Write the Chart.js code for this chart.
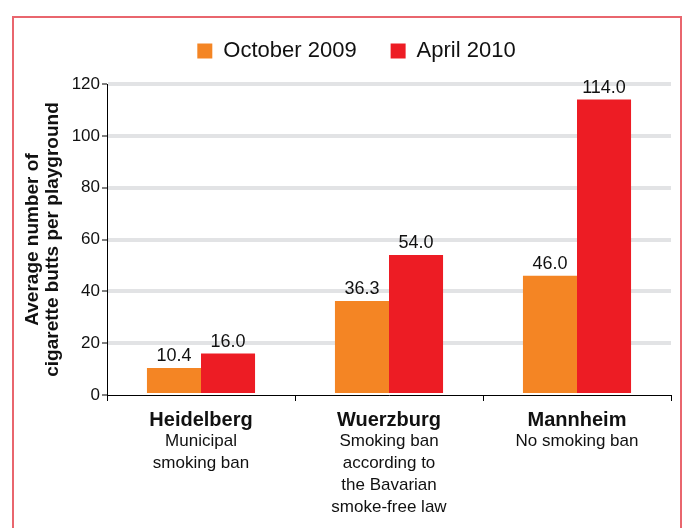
<!DOCTYPE html>
<html>
<head>
<meta charset="utf-8">
<script src="https://cdn.jsdelivr.net/npm/chart.js@4"></script>
<style>
    html, body { margin: 0; padding: 0; background: #fff; overflow: hidden; }
    #wrap { position: relative; width: 686px; height: 528px; }
    #frame {
        position: absolute; left: 12px; top: 16px; width: 670px; height: 540px;
        border: 2px solid #e9666e; box-sizing: border-box;
    }
    #chart { position: absolute; left: 0; top: 0; }
</style>
</head>
<body>
<div id="wrap">
    <div id="frame"></div>
    <canvas id="chart" width="686" height="528"></canvas>
</div>
<script>
// Chart data
const cities = ['Heidelberg', 'Wuerzburg', 'Mannheim'];
const cityNotes = [
    ['Municipal', 'smoking ban'],
    ['Smoking ban', 'according to', 'the Bavarian', 'smoke-free law'],
    ['No smoking ban']
];
const october2009 = [10.4, 36.3, 46.0];
const april2010 = [16.0, 54.0, 114.0];
const yMax = 120;
const yStep = 20;
const yTitle = ['Average number of', 'cigarette butts per playground'];

const FONT = "'Liberation Sans', Arial, sans-serif";

// Value labels above each bar
const valueLabels = {
    id: 'valueLabels',
    afterDatasetsDraw(chart) {
        const ctx = chart.ctx;
        ctx.save();
        ctx.font = '18px ' + FONT;
        ctx.fillStyle = '#111';
        ctx.textAlign = 'center';
        ctx.textBaseline = 'alphabetic';
        chart.data.datasets.forEach((ds, i) => {
            chart.getDatasetMeta(i).data.forEach((bar, j) => {
                ctx.fillText(ds.data[j].toFixed(1), bar.x, bar.y - 7);
            });
        });
        ctx.restore();
    }
};

// Category labels: bold city name, then the notes underneath
const cityLabels = {
    id: 'cityLabels',
    afterDraw(chart) {
        const ctx = chart.ctx;
        const xScale = chart.scales.x;
        const top = chart.chartArea.bottom;
        ctx.save();
        ctx.fillStyle = '#111';
        ctx.textAlign = 'center';
        ctx.textBaseline = 'middle';
        cities.forEach((city, i) => {
            const x = xScale.getPixelForValue(i);
            ctx.font = 'bold 20px ' + FONT;
            ctx.fillText(city, x, top + 25);
            ctx.font = '17px ' + FONT;
            cityNotes[i].forEach((line, k) => {
                ctx.fillText(line, x, top + 46.5 + k * 21.8);
            });
        });
        ctx.restore();
    }
};

// Legend: fixed height, nudged right to sit over the plot
const legendTweak = {
    id: 'legendTweak',
    beforeInit(chart) {
        const legend = chart.legend;
        const origFit = legend.fit;
        const origDraw = legend.draw;
        legend.fit = function () {
            origFit.call(legend);
            this.height = 78;
        };
        legend.draw = function () {
            const ctx = chart.ctx;
            ctx.save();
            ctx.translate(21, 0);
            origDraw.call(legend);
            ctx.restore();
        };
    }
};

new Chart(document.getElementById('chart'), {
    type: 'bar',
    data: {
        labels: cities,
        datasets: [{
            label: 'October 2009',
            data: october2009,
            backgroundColor: '#f48524',
            borderWidth: 0
        }, {
            label: 'April 2010',
            data: april2010,
            backgroundColor: '#ed1c24',
            borderWidth: 0
        }]
    },
    options: {
        responsive: false,
        animation: false,
        layout: {
            padding: { top: 6, right: 15, bottom: 127, left: 0 }
        },
        datasets: {
            bar: {
                categoryPercentage: 0.575,
                barPercentage: 1.0
            }
        },
        scales: {
            x: {
                grid: {
                    offset: true,
                    drawOnChartArea: false,
                    tickLength: 6,
                    tickColor: '#000'
                },
                border: { color: '#000', width: 1 },
                ticks: { display: false }
            },
            y: {
                min: 0,
                max: yMax,
                afterFit(scale) {
                    scale.width = 107;
                },
                ticks: {
                    stepSize: yStep,
                    padding: 2,
                    color: '#111',
                    font: { family: FONT, size: 17 }
                },
                grid: {
                    color: ctx => ctx.tick && ctx.tick.value === 0 ? 'rgba(0,0,0,0)' : '#e2e3e5',
                    lineWidth: 4,
                    tickColor: '#000',
                    tickWidth: 1,
                    tickLength: 5
                },
                border: { color: '#000', width: 1 },
                title: {
                    display: true,
                    text: yTitle,
                    color: '#111',
                    font: { family: FONT, size: 19, weight: 'bold', lineHeight: 1.05 },
                    padding: { top: 23, bottom: 0 }
                }
            }
        },
        plugins: {
            legend: {
                position: 'top',
                labels: {
                    boxWidth: 15,
                    boxHeight: 15,
                    padding: 34,
                    color: '#111',
                    font: { family: FONT, size: 22 }
                }
            },
            tooltip: { enabled: false }
        }
    },
    plugins: [valueLabels, cityLabels, legendTweak]
});
</script>
</body>
</html>
